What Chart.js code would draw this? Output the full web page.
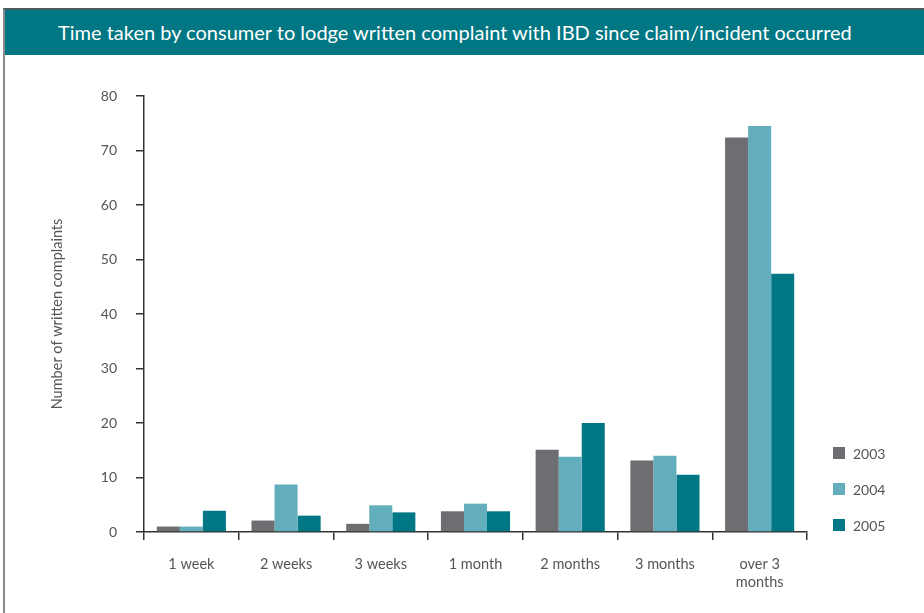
<!DOCTYPE html>
<html>
<head>
<meta charset="utf-8">
<script src="https://cdn.jsdelivr.net/npm/chart.js@4"></script>
<style>
  html, body { margin: 0; padding: 0; background: #fff; }
  body { width: 924px; height: 613px; position: relative; overflow: hidden; font-family: Lato, "Open Sans", sans-serif; }
  #frame { position: absolute; left: 3px; top: 8px; width: 921px; height: 605px;
           border-left: 2px solid #8a8a8a; border-top: 2px solid #4a5a5e; box-sizing: border-box; }
  #banner { position: absolute; left: 5px; top: 10px; width: 919px; height: 45px; background: #007783;
            color: #fff; font-size: 20px; line-height: 44px; padding-left: 53px; box-sizing: border-box;
            white-space: nowrap; }
  #wrap { position: absolute; left: 0; top: 0; width: 924px; height: 613px; }
</style>
</head>
<body>
<div id="frame"></div>
<div id="banner">Time taken by consumer to lodge written complaint with IBD since claim/incident occurred</div>
<div id="wrap"><canvas id="c" width="924" height="613"></canvas></div>
<script>
// Delay between the incident and the written complaint
const categories = ['1 week', '2 weeks', '3 weeks', '1 month', '2 months', '3 months', ['over 3', 'months']];
const seriesNames = ['2003', '2004', '2005'];
const values2003 = [1.0, 2.1, 1.5, 3.8, 15.1, 13.1, 72.4];
const values2004 = [1.0, 8.7, 4.9, 5.2, 13.8, 14.0, 74.5];
const values2005 = [3.9, 3.0, 3.6, 3.8, 20.0, 10.5, 47.4];
const yTicks = [0, 10, 20, 30, 40, 50, 60, 70, 80];
const seriesColors = ['#6d6e71', '#63aebc', '#007785'];

const textColor = '#555555';
const axisColor = '#333333';
const fontFamily = 'Lato, "Open Sans", sans-serif';

// Legend drawn as a column of squares to the right of the plot
const sideLegend = {
  id: 'sideLegend',
  afterDraw(chart) {
    const { ctx, chartArea } = chart;
    const x = chartArea.right + 26;
    let y = chartArea.bottom - 85;
    ctx.save();
    ctx.font = '14px ' + fontFamily;
    ctx.textBaseline = 'middle';
    ctx.textAlign = 'left';
    chart.data.datasets.forEach(ds => {
      ctx.fillStyle = ds.backgroundColor;
      ctx.fillRect(x, y, 12, 12);
      ctx.fillStyle = textColor;
      ctx.fillText(ds.label, x + 20, y + 7);
      y += 36;
    });
    ctx.restore();
  }
};

const datasets = [values2003, values2004, values2005].map((vals, i) => ({
  label: seriesNames[i],
  data: vals,
  backgroundColor: seriesColors[i],
  borderWidth: 0,
  categoryPercentage: 0.73,
  barPercentage: 1.0
}));

new Chart(document.getElementById('c'), {
  type: 'bar',
  data: { labels: categories, datasets },
  plugins: [sideLegend],
  options: {
    responsive: false,
    animation: false,
    layout: { padding: { top: 96, right: 117, bottom: 0, left: 0 } },
    plugins: { legend: { display: false }, tooltip: { enabled: false }, title: { display: false } },
    scales: {
      x: {
        afterFit: s => { s.height = 81; },
        grid: { display: true, drawOnChartArea: false, drawTicks: true, tickLength: 8, offset: true,
                color: axisColor, lineWidth: 1.5 },
        border: { display: true, color: axisColor, width: 1.5 },
        ticks: { color: textColor, padding: 15, font: { family: fontFamily, size: 14.5, lineHeight: 1.25 },
                 maxRotation: 0, autoSkip: false }
      },
      y: {
        min: 0, max: 80,
        afterFit: s => { s.width = 144; },
        afterBuildTicks: s => { s.ticks = yTicks.map(v => ({ value: v })); },
        grid: { display: true, drawOnChartArea: false, drawTicks: true, tickLength: 8,
                color: axisColor, lineWidth: 1.5 },
        border: { display: true, color: axisColor, width: 1.5 },
        ticks: { color: textColor, padding: 19, font: { family: fontFamily, size: 14 } },
        title: { display: true, text: 'Number of written complaints', color: textColor,
                 font: { family: fontFamily, size: 14.5 }, padding: { top: 49, bottom: 0 } }
      }
    }
  }
});
</script>
</body>
</html>
